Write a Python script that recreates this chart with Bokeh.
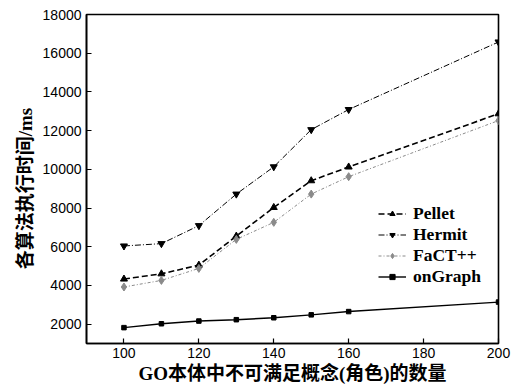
from bokeh.plotting import figure
from bokeh.models import Range1d, FixedTicker, Legend, LegendItem
from bokeh.embed import file_html
from bokeh.resources import INLINE

x_vals = [100, 110, 120, 130, 140, 150, 160, 200]
pellet = [4330, 4600, 5050, 6550, 8030, 9410, 10120, 12870]
hermit = [6040, 6160, 7090, 8720, 10130, 12050, 13090, 16580]
fact = [3920, 4260, 4880, 6380, 7260, 8720, 9620, 12520]
ongraph = [1820, 2020, 2160, 2230, 2330, 2480, 2650, 3140]
x_ticks = [100, 120, 140, 160, 180, 200]
y_ticks = [2000, 4000, 6000, 8000, 10000, 12000, 14000, 16000, 18000]

p = figure(frame_width=412, frame_height=329, output_backend="svg", toolbar_location=None,
           x_range=Range1d(90, 200), y_range=Range1d(1000, 18000),
           min_border_left=86, min_border_right=15, min_border_top=14, min_border_bottom=46)
p.background_fill_color = "white"
p.outline_line_color = "black"
p.outline_line_width = 1.6
p.xgrid.visible = False
p.ygrid.visible = False

for ax, ticks in ((p.xaxis[0], x_ticks), (p.yaxis[0], y_ticks)):
    ax.ticker = FixedTicker(ticks=ticks)
    ax.minor_tick_line_color = None
    ax.major_tick_in = 5
    ax.major_tick_out = 0
    ax.major_tick_line_color = "black"
    ax.major_tick_line_width = 1.2
    ax.axis_line_color = "black"
    ax.axis_line_width = 1.6
    ax.major_label_text_font = "Liberation Sans"
    ax.major_label_text_font_size = "14px"
    ax.major_label_text_color = "black"
    ax.axis_label_text_font = "Liberation Serif, Noto Sans CJK SC"
    ax.axis_label_text_font_style = "bold"
    ax.axis_label_text_font_size = "19px"
    ax.axis_label_text_color = "black"

p.xaxis.axis_label = "GO本体中不可满足概念(角色)的数量"
p.yaxis.axis_label = "各算法执行时间/ms" + "\u00a0" * 4
p.xaxis.major_label_standoff = 4
p.xaxis.axis_label_standoff = 2
p.yaxis.major_label_standoff = 5
p.yaxis.axis_label_standoff = 4

l1 = p.line(x_vals, pellet, line_color="black", line_width=1.6, line_dash="6 3")
m1 = p.scatter(x_vals, pellet, marker="triangle", size=7, color="black")
l2 = p.line(x_vals, hermit, line_color="black", line_width=1.0, line_dash="6 2 1 2")
m2 = p.scatter(x_vals, hermit, marker="inverted_triangle", size=7, color="black")
l3 = p.line(x_vals, fact, line_color="#8a8a8a", line_width=1.0, line_dash="3 2 1 2")
m3 = p.scatter(x_vals, fact, marker="diamond", size=8, color="#8a8a8a")
l4 = p.line(x_vals, ongraph, line_color="black", line_width=1.4)
m4 = p.scatter(x_vals, ongraph, marker="square", size=4.5, color="black")

legend = Legend(items=[
    LegendItem(label="Pellet", renderers=[l1, m1]),
    LegendItem(label="Hermit", renderers=[l2, m2]),
    LegendItem(label="FaCT++", renderers=[l3, m3]),
    LegendItem(label="onGraph", renderers=[l4, m4]),
], location=(292, 56))
legend.border_line_color = None
legend.background_fill_alpha = 0
legend.label_text_font = "Liberation Serif"
legend.label_text_font_style = "bold"
legend.label_text_font_size = "17.5px"
legend.label_text_color = "black"
legend.glyph_width = 28
legend.glyph_height = 13
legend.label_height = 20
legend.spacing = 0
legend.padding = 2
legend.margin = 0
legend.label_standoff = 7
p.add_layout(legend, "center")

open("out.html", "w").write(file_html(p, INLINE))
